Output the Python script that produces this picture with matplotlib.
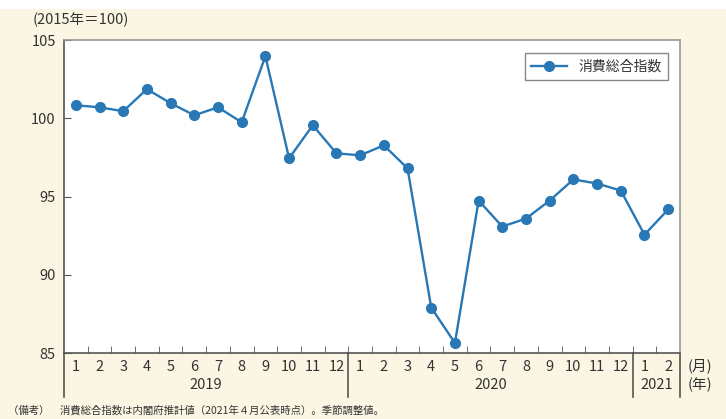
import matplotlib
matplotlib.use("Agg")
import matplotlib.pyplot as plt
import matplotlib.transforms as mtransforms
from matplotlib.patches import Rectangle

plt.rcParams['font.family'] = ['Noto Sans CJK JP', 'DejaVu Sans']

months = [1, 2, 3, 4, 5, 6, 7, 8, 9, 10, 11, 12,
          1, 2, 3, 4, 5, 6, 7, 8, 9, 10, 11, 12,
          1, 2]
years = ['2019', '2020', '2021']
year_spans = [(0, 11), (12, 23), (24, 25)]
values = [100.83, 100.7, 100.45, 101.86, 100.96, 100.19, 100.7, 99.74, 103.97, 97.44, 99.55, 97.76,
          97.63, 98.27, 96.8, 87.9, 85.64, 94.74, 93.08, 93.59, 94.74, 96.09, 95.83, 95.38,
          92.56, 94.17]
series_name = '消費総合指数'
yticks = [85, 90, 95, 100, 105]

bg = '#fbf6e3'
txt = '#333333'
line_c = '#2878b5'

fig = plt.figure(figsize=(7.26, 4.19), dpi=100, facecolor=bg)
fig.patches.append(Rectangle((0, 1 - 9 / 419), 1, 9 / 419, transform=fig.transFigure,
                             facecolor='white', edgecolor='none', zorder=0))
ax = fig.add_axes([64 / 726, 1 - 353 / 419, 616 / 726, 313 / 419])
ax.set_facecolor('white')

x = list(range(len(values)))
ax.plot(x, values, color=line_c, lw=1.7, marker='o', ms=7, label=series_name, zorder=3)

ax.set_xlim(-0.5, len(values) - 0.5)
ax.set_ylim(85, 105)
ax.set_yticks(yticks)
ax.set_yticklabels([str(v) for v in yticks], fontsize=10.5, color=txt)
ax.tick_params(axis='y', direction='in', length=5, color='#555555', pad=6)

# month labels as major ticks, boundaries as minor ticks
ax.set_xticks(x)
ax.set_xticklabels([str(m) for m in months], fontsize=10.5, color=txt)
ax.tick_params(axis='x', which='major', length=0, pad=5)
ax.set_xticks([i + 0.5 for i in range(len(values) - 1)], minor=True)
ax.tick_params(axis='x', which='minor', direction='in', length=5, color='#555555')

for s in ['left', 'bottom']:
    ax.spines[s].set_color('#555555')
    ax.spines[s].set_linewidth(1.2)
for s in ['top', 'right']:
    ax.spines[s].set_color('#9a9a9a')
    ax.spines[s].set_linewidth(1.2)

trans = mtransforms.blended_transform_factory(ax.transData, ax.transAxes)
for xd in [-0.5, 11.5, 23.5, len(values) - 0.5]:
    ax.plot([xd, xd], [0, -0.142], transform=trans, color='#555555', lw=1.2, clip_on=False)

for (a, b), yr in zip(year_spans, years):
    ax.text((a + b) / 2, -0.103, yr, transform=trans, ha='center', va='center',
            fontsize=10.5, color=txt)

ax.text(1.012, -0.042, '(月)', transform=ax.transAxes, ha='left', va='center', fontsize=10.5, color=txt)
ax.text(1.012, -0.103, '(年)', transform=ax.transAxes, ha='left', va='center', fontsize=10.5, color=txt)

fig.text(33 / 726, 1 - 20 / 419, '(2015年＝100)', ha='left', va='center', fontsize=10.5, color=txt)
fig.text(8 / 726, 1 - 410 / 419, '（備考）　消費総合指数は内閣府推計値（2021年４月公表時点）。季節調整値。',
         ha='left', va='center', fontsize=7.5, color=txt)

leg = ax.legend(loc='upper right', bbox_to_anchor=(0.98, 0.958), borderaxespad=0,
                fancybox=False, framealpha=1, edgecolor='#888888', fontsize=10,
                handlelength=2.6, borderpad=0.45)
for t in leg.get_texts():
    t.set_color(txt)
leg.get_frame().set_linewidth(1.0)

fig.savefig('out.png', dpi=100, facecolor=bg)
